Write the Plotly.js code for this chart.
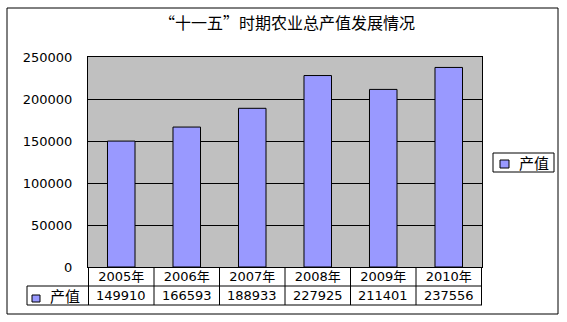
<!DOCTYPE html>
<html>
<head>
<meta charset="utf-8">
<script src="https://cdn.plot.ly/plotly-3.0.1.min.js"></script>
<style>html,body{margin:0;padding:0;background:#fff;}#chart{width:567px;height:322px;}</style>
</head>
<body>
<div id="chart"></div>
<script>
var categories = ['2005年', '2006年', '2007年', '2008年', '2009年', '2010年'];
var values = [149910, 166593, 188933, 227925, 211401, 237556];
var seriesName = '产值';
var chartTitle = '“十一五”时期农业总产值发展情况';

var W = 567, H = 322, L = 88, R = 482, T = 57, B = 267;
function px(p) { return (p - L) / (R - L); }
function py(p) { return (B - p) / (B - T); }

var NUM = 'DejaVu Sans, Noto Sans CJK SC, sans-serif';
var CJK = 'Noto Sans CJK SC, DejaVu Sans, sans-serif';
var barColor = '#9999FF';

var rowTop = 267, rowMid = 286, rowBot = 305, rowLeft = 27;

var shapes = [];
var annotations = [];
// outer border
shapes.push({type: 'rect', xref: 'paper', yref: 'paper', x0: px(7), x1: px(558), y0: py(8), y1: py(314),
  line: {color: '#000', width: 1}, fillcolor: 'rgba(0,0,0,0)', layer: 'above'});
// table horizontal lines
shapes.push({type: 'line', xref: 'paper', yref: 'paper', x0: px(rowLeft), x1: 1, y0: py(rowMid), y1: py(rowMid), line: {color: '#000', width: 1}});
shapes.push({type: 'line', xref: 'paper', yref: 'paper', x0: px(rowLeft), x1: 1, y0: py(rowBot), y1: py(rowBot), line: {color: '#000', width: 1}});
shapes.push({type: 'line', xref: 'paper', yref: 'paper', x0: px(rowLeft), x1: px(rowLeft), y0: py(rowMid), y1: py(rowBot), line: {color: '#000', width: 1}});
// table vertical lines at category boundaries
for (var i = 0; i <= categories.length; i++) {
  shapes.push({type: 'line', xref: 'x', yref: 'paper', x0: i - 0.5, x1: i - 0.5, y0: py(rowTop), y1: py(rowBot), line: {color: '#000', width: 1}});
}
// values row
for (var j = 0; j < categories.length; j++) {
  annotations.push({xref: 'x', yref: 'paper', x: j, y: py((rowMid + rowBot) / 2), text: String(values[j]),
    showarrow: false, xanchor: 'center', yanchor: 'middle', font: {family: NUM, size: 13, color: '#000'}});
}
// row header key
shapes.push({type: 'rect', xref: 'paper', yref: 'paper', x0: px(32), x1: px(40), y0: py(295), y1: py(302),
  line: {color: '#000', width: 1}, fillcolor: barColor});
annotations.push({xref: 'paper', yref: 'paper', x: px(65), y: py(295.5), text: seriesName, showarrow: false,
  xanchor: 'center', yanchor: 'middle', font: {family: CJK, size: 15, color: '#000'}});
// legend
shapes.push({type: 'rect', xref: 'paper', yref: 'paper', x0: px(493), x1: px(554), y0: py(153), y1: py(172),
  line: {color: '#000', width: 1}, fillcolor: '#fff'});
shapes.push({type: 'rect', xref: 'paper', yref: 'paper', x0: px(500), x1: px(509), y0: py(160), y1: py(168),
  line: {color: '#000', width: 1}, fillcolor: barColor});
annotations.push({xref: 'paper', yref: 'paper', x: px(534), y: py(162.5), text: seriesName, showarrow: false,
  xanchor: 'center', yanchor: 'middle', font: {family: CJK, size: 15, color: '#000'}});

var trace = {
  type: 'bar', x: categories, y: values, name: seriesName, width: 0.42,
  marker: {color: barColor, line: {color: '#000', width: 1}},
  hoverinfo: 'x+y'
};

var layout = {
  width: W, height: H,
  margin: {l: L, r: W - R, t: T, b: H - B, pad: 0},
  paper_bgcolor: '#fff', plot_bgcolor: '#C0C0C0',
  showlegend: false,
  title: {text: chartTitle, x: 287 / W, xanchor: 'center', y: 1 - 23 / H, yanchor: 'middle', yref: 'container',
    font: {family: CJK, size: 16, color: '#000'}},
  xaxis: {type: 'category', showgrid: false, showline: true, linecolor: '#000', linewidth: 1, mirror: true,
    ticks: '', tickfont: {family: NUM, size: 13, color: '#000'}, ticklabelstandoff: -3, zeroline: false},
  yaxis: {range: [0, 250000], dtick: 50000, tick0: 0, showgrid: true, gridcolor: '#000', gridwidth: 1,
    showline: true, linecolor: '#000', linewidth: 1, mirror: true, zeroline: false, ticks: '',
    tickformat: 'd', tickfont: {family: NUM, size: 13, color: '#000'}, ticklabelstandoff: 12},
  shapes: shapes,
  annotations: annotations,
  bargap: 0.58
};

Plotly.newPlot('chart', [trace], layout, {displayModeBar: false, staticPlot: true});
</script>
</body>
</html>
